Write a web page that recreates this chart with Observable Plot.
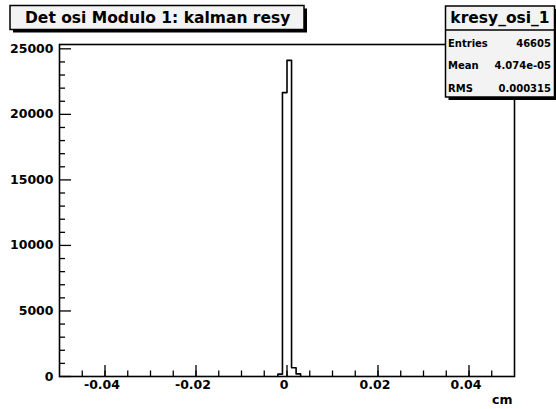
<!DOCTYPE html>
<html>
<head>
<meta charset="utf-8">
<script src="https://cdn.jsdelivr.net/npm/d3@7"></script>
<script src="https://cdn.jsdelivr.net/npm/@observablehq/plot@0.6"></script>
<style>
  body { margin: 0; background: #fff; }
  #wrap { position: relative; width: 556px; height: 409px; }
  #wrap svg.overlay { position: absolute; left: 0; top: 0; pointer-events: none; }
</style>
</head>
<body>
<div id="wrap"></div>
<script>
// Histogram kresy_osi_1: bin edges (cm) and counts of the non-empty bins
const binEdges = [-0.002, -0.001, 0, 0.001, 0.002, 0.003];
const binCounts = [180, 21660, 24120, 665, 200];

// Axis ranges and ticks
const xRange = [-0.05, 0.05];
const yTop = 25330;
const xMajor = [-0.04, -0.02, 0, 0.02, 0.04];
const xLabels = ["-0.04", "-0.02", "0", "0.02", "0.04"];
const xMinor = [-0.045, -0.04, -0.035, -0.03, -0.025, -0.02, -0.015, -0.01, -0.005, 0,
                0.005, 0.01, 0.015, 0.02, 0.025, 0.03, 0.035, 0.04, 0.045];
const yMajor = [0, 5000, 10000, 15000, 20000, 25000];
const yMinor = [1000, 2000, 3000, 4000, 6000, 7000, 8000, 9000, 11000, 12000, 13000, 14000,
                16000, 17000, 18000, 19000, 21000, 22000, 23000, 24000];

// Text of the title and statistics boxes
const histTitle = "Det osi Modulo 1: kalman resy";
const statsName = "kresy_osi_1";
const statsLabels = ["Entries", "Mean", "RMS"];
const statsValues = ["46605", "4.074e-05", "0.000315"];
const xUnit = "cm";

// Step outline of the histogram (closed down to the baseline at both ends)
const steps = [{x: binEdges[0], y: 0}];
binCounts.forEach((c, i) => steps.push({x: binEdges[i], y: c}));
steps.push({x: binEdges[binEdges.length - 1], y: 0});

const font = "'DejaVu Sans', sans-serif";

const chart = Plot.plot({
  width: 556,
  height: 409,
  marginLeft: 59,
  marginRight: 42,
  marginTop: 44,
  marginBottom: 33,
  style: {fontFamily: font, fontWeight: "bold", fontSize: "12.5px", background: "transparent", color: "#000"},
  x: {domain: xRange, label: null},
  y: {domain: [0, yTop], label: null},
  marks: [
    Plot.lineY(steps, {x: "x", y: "y", curve: "step-after", stroke: "#000", strokeWidth: 1.6}),
    Plot.axisX({ticks: xMinor, tickSize: -5.5, tickFormat: () => "", strokeWidth: 1.3}),
    Plot.axisX({ticks: xMajor, tickSize: -11, tickFormat: () => "", strokeWidth: 1.3}),
    Plot.axisX({ticks: xMajor, tickSize: 0, tickPadding: 4, dx: -3, tickFormat: (d, i) => xLabels[i]}),
    Plot.axisY({ticks: yMinor, tickSize: -6, tickFormat: () => "", strokeWidth: 1.3}),
    Plot.axisY({ticks: yMajor, tickSize: -12, tickFormat: () => "", strokeWidth: 1.3}),
    Plot.axisY({ticks: yMajor, tickSize: 0, tickPadding: 6, tickFormat: d => String(d)}),
    Plot.frame({stroke: "#000", strokeWidth: 1.6}),
    Plot.text([xUnit], {frameAnchor: "bottom-right", textAnchor: "end", lineAnchor: "bottom", dx: -2, dy: 27})
  ]
});

const wrap = document.getElementById("wrap");
wrap.appendChild(chart);

// Title and statistics panels drawn on top of the plot
const ov = d3.select(wrap).append("svg")
  .attr("class", "overlay")
  .attr("width", 556).attr("height", 409)
  .style("font-family", font).style("font-weight", "bold");

function panel(x, y, w, h) {
  ov.append("rect").attr("x", x + 3).attr("y", y + 3).attr("width", w).attr("height", h).attr("fill", "#000");
  ov.append("rect").attr("x", x).attr("y", y).attr("width", w).attr("height", h)
    .attr("fill", "#f3f3f3").attr("stroke", "#000").attr("stroke-width", 1.5);
}

panel(10, 5.5, 294, 24);
ov.append("text").attr("x", 25).attr("y", 22.7).attr("font-size", 15.5).text(histTitle);

panel(445.5, 6, 109, 91);
ov.append("line").attr("x1", 445.5).attr("x2", 554.5).attr("y1", 30).attr("y2", 30)
  .attr("stroke", "#000").attr("stroke-width", 1.3);
ov.append("text").attr("x", 500).attr("y", 23.3).attr("font-size", 15.5)
  .attr("text-anchor", "middle").text(statsName);
const rowBase = [47, 69.3, 92];
statsLabels.forEach((lab, i) => {
  ov.append("text").attr("x", 448).attr("y", rowBase[i]).attr("font-size", 10).text(lab);
  ov.append("text").attr("x", 551).attr("y", rowBase[i]).attr("font-size", 10)
    .attr("text-anchor", "end").text(statsValues[i]);
});
</script>
</body>
</html>
